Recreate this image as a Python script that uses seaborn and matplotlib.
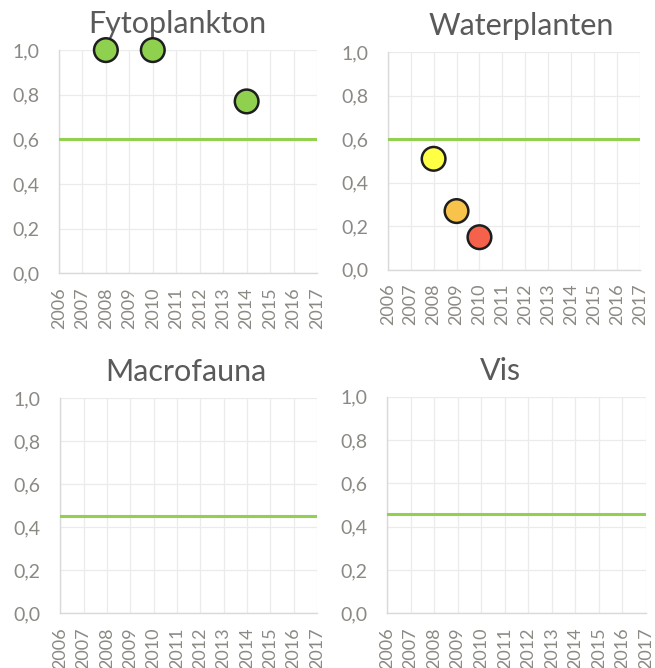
import numpy as np
import pandas as pd
import matplotlib
matplotlib.use("Agg")
import matplotlib.pyplot as plt
import seaborn as sns

# data
years = list(range(2006, 2018))
year_labels = [str(y) for y in years]
y_ticks = [0.0, 0.2, 0.4, 0.6, 0.8, 1.0]
y_tick_labels = ["0,0", "0,2", "0,4", "0,6", "0,8", "1,0"]

panel_titles = ["Fytoplankton", "Waterplanten", "Macrofauna", "Vis"]
thresholds = [0.60, 0.60, 0.45, 0.46]

fyto_years = [2008, 2010, 2014]
fyto_scores = [1.0, 1.0, 0.77]
fyto_class = ["goed", "goed", "goed"]

water_years = [2008, 2009, 2010]
water_scores = [0.51, 0.27, 0.15]
water_class = ["matig", "ontoereikend", "slecht"]

macro_years = []
macro_scores = []
macro_class = []

vis_years = []
vis_scores = []
vis_class = []

class_colors = {
    "goed": "#8fd14f",
    "matig": "#ffff45",
    "ontoereikend": "#f7c34b",
    "slecht": "#f4624b",
}

sns.set_theme(style="white")
plt.rcParams["font.family"] = ["Lato", "DejaVu Sans"]

fig = plt.figure(figsize=(6.55, 6.68), dpi=100)
positions = [
    [0.090, 0.591, 0.394, 0.334],
    [0.592, 0.596, 0.385, 0.326],
    [0.092, 0.082, 0.392, 0.322],
    [0.591, 0.082, 0.395, 0.324],
]
title_x = [0.46, 0.53, 0.49, 0.44]
series = [
    (fyto_years, fyto_scores, fyto_class),
    (water_years, water_scores, water_class),
    (macro_years, macro_scores, macro_class),
    (vis_years, vis_scores, vis_class),
]

grid_col = "#ebebeb"
text_col = "#5a5a5a"
tick_col = "#8c8984"

for pos, title, tx, thr, (xs, ys, cl) in zip(positions, panel_titles, title_x,
                                             thresholds, series):
    ax = fig.add_axes(pos)
    ax.set_xlim(years[0], years[-1])
    ax.set_ylim(0, 1.0)
    ax.set_xticks(years)
    ax.set_xticklabels(year_labels, rotation=90, fontsize=13, color=tick_col)
    ax.set_yticks(y_ticks)
    ax.set_yticklabels(y_tick_labels, fontsize=14, color=tick_col)
    ax.tick_params(axis="x", length=0, pad=10)
    ax.tick_params(axis="y", length=0, pad=14)
    ax.grid(True, color=grid_col, linewidth=0.9)
    for side in ["top", "right"]:
        ax.spines[side].set_visible(False)
    for side in ["left", "bottom"]:
        ax.spines[side].set_color("#d9d9d9")
        ax.spines[side].set_linewidth(1.0)

    thr_df = pd.DataFrame({"year": [years[0], years[-1]], "score": [thr, thr]})
    sns.lineplot(data=thr_df, x="year", y="score", ax=ax, color="#92d050",
                 linewidth=2.2, zorder=3)

    if len(xs):
        df = pd.DataFrame({"year": xs, "score": ys, "klasse": cl})
        sns.scatterplot(data=df, x="year", y="score", hue="klasse",
                        palette=class_colors, s=290, edgecolor="#1e1e1e",
                        linewidth=1.8, ax=ax, legend=False, zorder=5,
                        clip_on=False)

    ax.set_xlabel("")
    ax.set_ylabel("")
    ax.set_title(title, fontsize=22, color=text_col, pad=12, x=tx)

fig.savefig("out.png", dpi=100)
